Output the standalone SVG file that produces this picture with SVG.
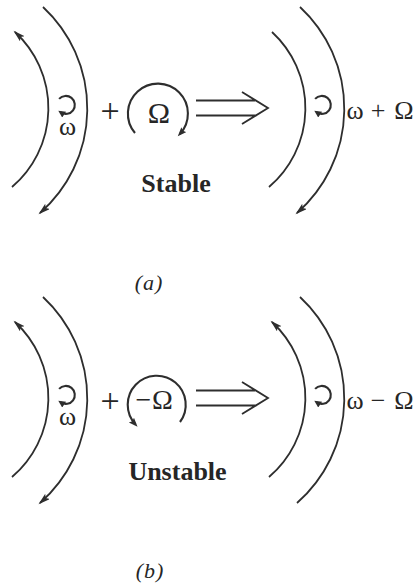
<svg xmlns="http://www.w3.org/2000/svg" width="416" height="585" viewBox="0 0 416 585">
<style>
.ln{fill:none;stroke:#2e2e2e;stroke-width:1.8}
.sm{fill:none;stroke:#2e2e2e;stroke-width:2.1}
.t{font-family:"Liberation Serif","Times New Roman",serif;fill:#262626}
.m{font-size:26px;text-anchor:middle}
.b{font-size:26px;font-weight:bold;text-anchor:middle}
.i{font-size:22px;font-style:italic;text-anchor:middle;letter-spacing:1px}
</style>
<defs>
<marker id="ah" markerUnits="userSpaceOnUse" markerWidth="14" markerHeight="10" refX="10" refY="3.5" orient="auto">
<path d="M0,0 L12,3.5 L0,7 L2.5,3.5 Z" fill="#2e2e2e"/>
</marker>
<marker id="as" markerUnits="userSpaceOnUse" markerWidth="10" markerHeight="10" refX="4" refY="3.5" orient="auto">
<path d="M0,0 L7,3.5 L0,7 Z" fill="#2e2e2e"/>
</marker>
<marker id="am" markerUnits="userSpaceOnUse" markerWidth="12" markerHeight="10" refX="6" refY="3.5" orient="auto">
<path d="M0,0 L9,3.5 L0,7 L1.5,3.5 Z" fill="#2e2e2e"/>
</marker>
</defs>
<rect width="416" height="585" fill="#fff"/>

<g id="panel-a">
<g id="a-left-waves">
<path class="ln" d="M12,187 A103.6,103.6 0 0 0 15,32" marker-end="url(#ah)"/>
<path class="ln" d="M43,7 A138.8,138.8 0 0 1 40,213" marker-end="url(#ah)"/>
<path class="sm" d="M59.1,98.9 A9,9 0 1 1 60.8,112.4" marker-end="url(#as)"/>
<text class="t m" x="67.5" y="135">ω</text>
</g>
<g id="a-plus"><text class="t" x="110" y="122" font-size="34" text-anchor="middle">+</text></g>
<g id="a-omega">
<path class="sm" d="M135,133 A30,30 0 1 1 179.8,134.1" marker-end="url(#am)"/>
<text class="t" x="159" y="123" font-size="30" text-anchor="middle">Ω</text>
</g>
<g id="a-arrow">
<path class="ln" d="M196,100.5 H255 M196,115.5 H256.5 M242,92 L268,108 L242,124"/>
</g>
<g id="a-right-waves">
<path class="ln" d="M269,187 A103.6,103.6 0 0 0 272,32"/>
<path class="ln" d="M300,7 A138.8,138.8 0 0 1 297,213" marker-end="url(#ah)"/>
<path class="sm" d="M315.1,98.9 A9,9 0 1 1 316.8,112.4" marker-end="url(#as)"/>
<text class="t m" x="355" y="119">ω</text>
<text class="t m" x="378" y="119">+</text>
<text class="t m" x="404" y="119">Ω</text>
</g>
<g id="a-label-stable"><text class="t b" x="176" y="192">Stable</text></g>
<g id="a-caption"><text class="t i" x="149" y="290">(a)</text></g>
</g>

<g id="panel-b">
<g id="b-left-waves">
<path class="ln" d="M12,477 A103.6,103.6 0 0 0 15,322" marker-end="url(#ah)"/>
<path class="ln" d="M43,297 A138.8,138.8 0 0 1 40,503" marker-end="url(#ah)"/>
<path class="sm" d="M59.1,388.9 A9,9 0 1 1 60.8,402.4" marker-end="url(#as)"/>
<text class="t m" x="67.5" y="425">ω</text>
</g>
<g id="b-plus"><text class="t" x="110" y="412" font-size="34" text-anchor="middle">+</text></g>
<g id="b-omega">
<path class="sm" d="M180,422 A29,29 0 1 0 135.5,424.5" marker-end="url(#am)"/>
<text class="t" x="143.5" y="409" font-size="28" text-anchor="middle">−</text>
<text class="t" x="162.5" y="409" font-size="28" text-anchor="middle">Ω</text>
</g>
<g id="b-arrow">
<path class="ln" d="M196,390.5 H255 M196,405.5 H256.5 M242,382 L268,398 L242,414"/>
</g>
<g id="b-right-waves">
<path class="ln" d="M269,477 A103.6,103.6 0 0 0 272,322" marker-end="url(#ah)"/>
<path class="ln" d="M300,297 A138.8,138.8 0 0 1 297,503"/>
<path class="sm" d="M315.1,388.9 A9,9 0 1 1 316.8,402.4" marker-end="url(#as)"/>
<text class="t m" x="355" y="409">ω</text>
<text class="t m" x="378" y="409">−</text>
<text class="t m" x="404" y="409">Ω</text>
</g>
<g id="b-label-unstable"><text class="t b" x="177.5" y="480">Unstable</text></g>
<g id="b-caption"><text class="t i" x="150" y="578">(b)</text></g>
</g>
</svg>
